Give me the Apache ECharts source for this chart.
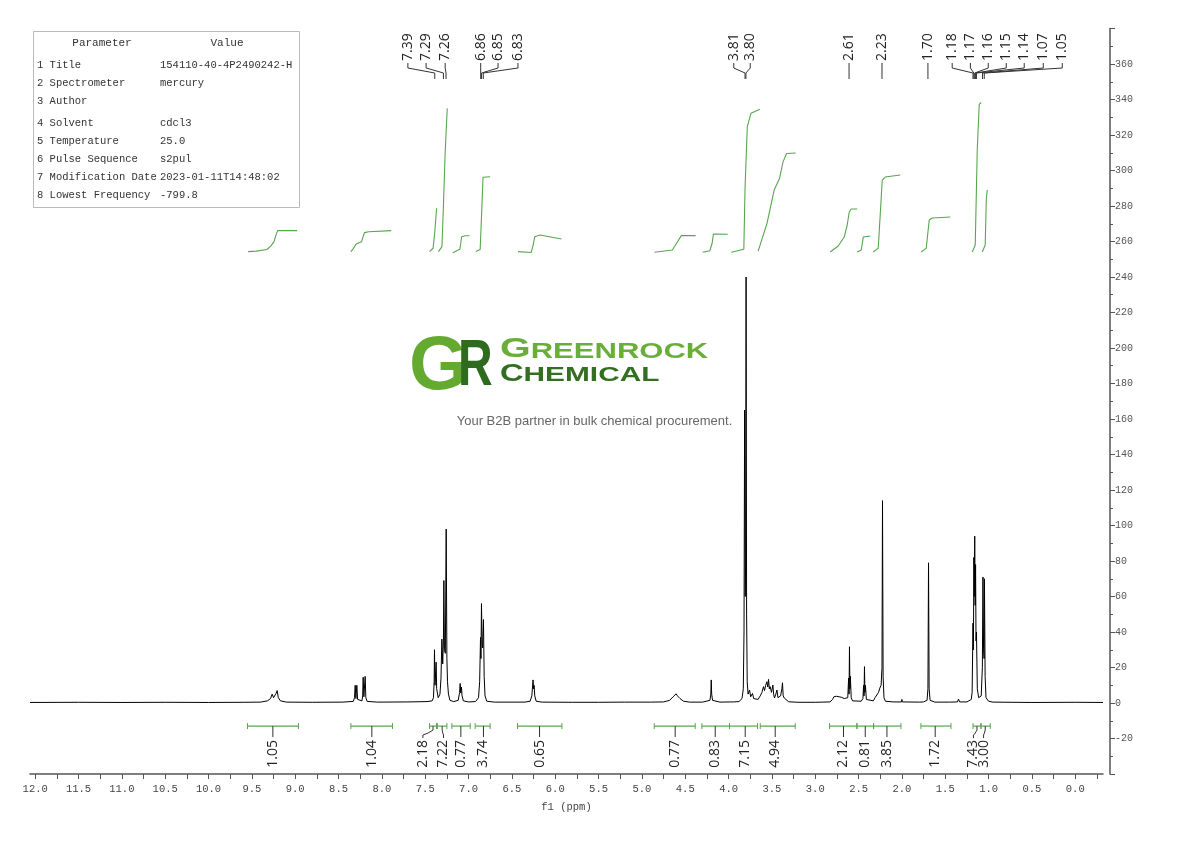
<!DOCTYPE html>
<html><head><meta charset="utf-8">
<script src="https://cdn.jsdelivr.net/npm/echarts@6/dist/echarts.min.js"></script>
<style>html,body{margin:0;padding:0;background:#fff}#c{width:1190px;height:841px}</style>
</head><body><div id="c"></div>
<script>
// ---- spectrum: [ppm, intensity] ----
const spectrum = [
[12.06,0.3],[11.5,0.4],[11.0,0.3],[10.5,0.4],[10.0,0.3],[9.6,0.4],
[9.40,0.5],[9.32,1.2],[9.285,2.5],[9.266,5.0],[9.25,3.0],[9.235,3.5],[9.22,5.5],[9.209,7.0],[9.195,3.0],[9.17,1.2],[9.10,0.5],[8.8,0.4],
[8.45,0.5],[8.33,0.9],[8.316,3],[8.308,10],[8.30,2.5],[8.295,2.5],[8.289,10],[8.28,2],[8.26,0.9],[8.23,1.2],[8.222,4],[8.216,14.5],[8.208,3.5],[8.200,3.5],[8.193,15],[8.185,3],[8.17,0.9],[8.05,0.5],[7.7,0.6],
[7.48,0.8],[7.42,1.2],[7.405,3],[7.397,12],[7.393,30],[7.387,10],[7.38,9],[7.374,23],[7.368,8],[7.35,3],[7.33,5],[7.318,14],[7.308,36],[7.298,22],[7.29,35],[7.285,69],[7.278,30],[7.268,28],[7.258,98],[7.25,25],[7.243,12],[7.239,11],[7.232,5],[7.215,1.5],[7.17,0.8],
[7.12,1.5],[7.103,6],[7.097,11],[7.09,5.6],[7.082,9],[7.075,4],[7.06,1.2],[7.0,0.6],[6.92,0.8],[6.885,3],[6.872,12],[6.862,37],[6.857,25],[6.851,56],[6.844,33],[6.838,31],[6.828,47],[6.82,15],[6.81,4],[6.79,1],[6.70,0.5],
[6.35,0.5],[6.29,1],[6.27,4],[6.262,9],[6.256,13],[6.25,8],[6.244,10],[6.236,4],[6.22,1],[6.15,0.5],[5.8,0.4],[5.5,0.4],[5.2,0.5],[4.9,0.5],
[4.75,0.6],[4.68,1.5],[4.64,3.5],[4.62,4.5],[4.605,5.2],[4.59,4],[4.575,4.5],[4.56,2.5],[4.52,1],[4.45,0.5],[4.30,0.5],
[4.215,1.5],[4.205,5],[4.20,13],[4.195,5],[4.185,1.5],[4.10,0.5],[3.975,0.6],[3.96,1.2],[3.945,0.6],[3.88,0.8],
[3.845,2.5],[3.83,8],[3.822,40],[3.815,165],[3.808,60],[3.803,80],[3.798,240],[3.792,50],[3.785,12],[3.775,5],
[3.758,7.3],[3.745,3.5],[3.735,4],[3.724,5.4],[3.71,2.5],[3.693,1.7],[3.66,2],[3.635,4],[3.615,6],[3.597,9.2],[3.585,7],[3.572,10],[3.558,12],[3.548,9],[3.539,13.3],[3.53,8],[3.52,9.2],[3.505,6],[3.489,10.1],[3.48,5],[3.47,2.8],[3.455,5],[3.442,7.3],[3.43,3],[3.416,2],[3.40,4],[3.385,8],[3.378,11.4],[3.37,4],[3.358,2.8],[3.338,1.7],[3.307,0.7],[3.2,0.4],[3.0,0.4],
[2.83,0.6],[2.80,2],[2.785,3.5],[2.77,4.5],[2.755,3.8],[2.74,4.2],[2.725,3.5],[2.71,4.2],[2.695,3.2],[2.68,3.6],[2.665,2.5],[2.65,1.5],[2.625,3],[2.615,14],[2.61,5],[2.605,31.7],[2.60,8],[2.595,15],[2.585,3],[2.57,1.2],
[2.47,1],[2.45,2.5],[2.442,10],[2.437,4],[2.432,20.5],[2.427,6],[2.421,10],[2.41,2],[2.39,1],
[2.33,1.2],[2.31,3],[2.29,4.5],[2.27,6],[2.255,8.4],[2.24,10],[2.23,20],[2.224,114],[2.217,15],[2.207,3],[2.19,1],[2.10,0.6],[2.005,0.6],[2.0,2],[1.995,0.6],[1.80,0.5],
[1.75,0.6],[1.71,1.5],[1.70,8],[1.693,79],[1.686,8],[1.675,1.5],[1.62,0.5],[1.45,0.5],[1.36,0.6],[1.347,2.2],[1.335,0.6],
[1.25,0.6],[1.20,2],[1.19,6],[1.18,45],[1.175,30],[1.17,82],[1.165,60],[1.16,94],[1.155,55],[1.15,78],[1.145,35],[1.14,40],[1.13,8],[1.115,3],[1.10,2],[1.085,4],[1.072,20],[1.065,71],[1.058,30],[1.052,25],[1.048,70],[1.04,15],[1.03,3],[1.0,1],[0.95,0.5],[0.5,0.3],[0.0,0.4],[-0.32,0.3]
];

// ---- integral curves (same y scale) ----
const integralCurves = [
[[9.544,254.3],[9.45,254.6],[9.326,255.5],[9.28,257.5],[9.244,259.9],[9.22,264],[9.203,266.1],[8.977,266.1]],
[[8.358,254.3],[8.33,256],[8.296,258.6],[8.234,259.9],[8.215,263],[8.201,265.0],[8.151,265.5],[7.892,266.1]],
[[7.451,254.3],[7.41,256.2],[7.39,265],[7.369,278.7]],
[[7.348,254.3],[7.307,257.1],[7.29,280],[7.27,310],[7.246,335.0]],
[[7.183,253.7],[7.101,255.6],[7.09,259],[7.08,262.7],[7.039,263.2],[6.989,263.2]],
[[6.916,254.3],[6.866,255.5],[6.85,275],[6.833,296.2],[6.751,296.5]],
[[6.429,254.3],[6.277,253.8],[6.255,258],[6.236,262.7],[6.174,263.7],[5.927,261.4]],
[[4.855,253.9],[4.649,255.2],[4.60,259],[4.545,263.3],[4.38,263.3]],
[[4.298,253.9],[4.216,254.8],[4.19,259],[4.175,264.2],[4.01,264.1]],
[[3.968,253.9],[3.824,255.6],[3.81,290],[3.784,324.7],[3.742,332.2],[3.639,334.5]],
[[3.659,254.6],[3.61,262],[3.556,270.3],[3.474,289.0],[3.412,295.5],[3.371,305.0],[3.330,309.6],[3.226,309.9]],
[[2.827,254.1],[2.735,257.5],[2.666,262.5],[2.631,269.3],[2.608,276.6],[2.585,278.3],[2.516,278.3]],
[[2.516,254.1],[2.469,255.2],[2.446,262.5],[2.365,263.1]],
[[2.331,254.1],[2.273,256.3],[2.227,294.6],[2.193,296.3],[2.02,297.5]],
[[1.777,254.1],[1.719,256.3],[1.685,272.1],[1.650,273.2],[1.442,273.8]],
[[1.189,254.1],[1.154,258.0],[1.131,311.5],[1.108,337.2],[1.085,338.3]],
[[1.073,254.1],[1.039,258.0],[1.027,283.4],[1.016,289.0]]
];

// ---- integral bars below baseline ----
const integralRanges = [[9.551,8.963],[8.358,7.878],[7.45,7.37],[7.36,7.25],[7.193,6.981],[6.924,6.751],[6.435,5.923],[4.858,4.385],[4.308,3.989],[3.989,3.666],[3.635,3.231],[2.835,2.519],[2.519,2.327],[2.327,2.011],[1.781,1.434],[1.180,1.088],[1.088,0.981]];
const integralCenters = [9.258,8.116,7.41,7.305,7.089,6.828,6.181,4.616,4.154,3.808,3.462,2.674,2.423,2.173,1.616,1.134,1.039];
const integralValues = ['1.05','1.04','2.18','7.22','0.77','3.74','0.65','0.77','0.83','7.15','4.94','2.12','0.81','3.85','1.72','7.43','3.00'];
const integralLabelAt = [9.258,8.116,7.527,7.289,7.089,6.828,6.181,4.616,4.154,3.808,3.462,2.674,2.423,2.173,1.616,1.174,1.058];

// ---- peak labels ----
const peakLabels = ['7.39','7.29','7.26','6.86','6.85','6.83','3.81','3.80','2.61','2.23','1.70','1.18','1.17','1.16','1.15','1.14','1.07','1.05'];
const peakPositions = [7.39,7.29,7.26,6.86,6.85,6.83,3.81,3.80,2.61,2.23,1.70,1.18,1.17,1.16,1.15,1.14,1.07,1.05];
const peakLabelAt = [7.70,7.49,7.27,6.86,6.66,6.43,3.94,3.75,2.61,2.23,1.70,1.42,1.21,1.004,0.796,0.589,0.369,0.15];

// ---- axes ticks ----
const xTickLabels = [0,0.5,1,1.5,2,2.5,3,3.5,4,4.5,5,5.5,6,6.5,7,7.5,8,8.5,9,9.5,10,10.5,11,11.5,12];
const xMinorTicks = [-0.25,0.25,0.75,1.25,1.75,2.25,2.75,3.25,3.75,4.25,4.75,5.25,5.75,6.25,6.75,7.25,7.75,8.25,8.75,9.25,9.75,10.25,10.75,11.25,11.75];

// ---- parameter table ----
const paramNames = ['1 Title','2 Spectrometer','3 Author','4 Solvent','5 Temperature','6 Pulse Sequence','7 Modification Date','8 Lowest Frequency'];
const paramValues = ['154110-40-4P2490242-H','mercury','','cdcl3','25.0','s2pul','2023-01-11T14:48:02','-799.8'];

const MONO = 'Liberation Mono';
const SANS = 'Open Sans';
const GREEN = '#57a64f';
const INT_BAR_Y = -13;

function renderPeakLabel(params, api) {
  const i = params.dataIndex;
  const px = api.coord([api.value(0), 0])[0];
  const lx = api.coord([api.value(2), 0])[0];
  const children = [{
    type: 'text', x: lx, y: 61, rotation: Math.PI / 2,
    style: { text: peakLabels[i], fontSize: 14, fontFamily: SANS, fill: '#222', align: 'left', verticalAlign: 'middle' }
  }];
  const pts = Math.abs(px - lx) < 0.8 ? [[lx, 63], [lx, 79]] : [[lx, 63], [lx, 68], [px, 73], [px, 79]];
  children.push({ type: 'polyline', shape: { points: pts }, style: { stroke: '#333', lineWidth: 1, fill: null } });
  return { type: 'group', children };
}

function renderIntegral(params, api) {
  const i = params.dataIndex;
  const y = api.coord([0, INT_BAR_Y])[1];
  const x1 = api.coord([api.value(0), 0])[0];
  const x2 = api.coord([api.value(1), 0])[0];
  const xc = api.coord([api.value(2), 0])[0];
  const xl = api.coord([api.value(3), 0])[0];
  const ch = [
    { type: 'line', shape: { x1: x1, y1: y, x2: x2, y2: y }, style: { stroke: GREEN, lineWidth: 1.2 } },
    { type: 'line', shape: { x1: x1, y1: y - 3, x2: x1, y2: y + 3 }, style: { stroke: GREEN, lineWidth: 1 } },
    { type: 'line', shape: { x1: x2, y1: y - 3, x2: x2, y2: y + 3 }, style: { stroke: GREEN, lineWidth: 1 } }
  ];
  if (Math.abs(xl - xc) < 0.8) {
    ch.push({ type: 'line', shape: { x1: xc, y1: y, x2: xc, y2: y + 11 }, style: { stroke: '#333', lineWidth: 1 } });
  } else {
    ch.push({ type: 'line', shape: { x1: xc, y1: y, x2: xc, y2: y + 4 }, style: { stroke: '#333', lineWidth: 1 } });
    ch.push({ type: 'polyline', shape: { points: [[xc, y + 4], [xc + (xl - xc) * 0.5, y + 7], [xl, y + 9], [xl, y + 12]] }, style: { stroke: '#333', lineWidth: 1, fill: null } });
  }
  ch.push({ type: 'text', x: xl, y: y + 14, rotation: Math.PI / 2,
    style: { text: integralValues[i], fontSize: 14, fontFamily: SANS, fill: '#222', align: 'right', verticalAlign: 'middle' } });
  return { type: 'group', children: ch };
}

const rowYs = [65, 83, 101, 123, 141, 159, 177, 195];
const graphics = [
  { type: 'rect', shape: { x: 33.5, y: 31.5, width: 266, height: 176 }, style: { fill: '#fff', stroke: '#bbb', lineWidth: 1 }, z: 10 },
  { type: 'text', x: 102, y: 43, style: { text: 'Parameter', font: '11px ' + MONO, fill: '#333', align: 'center', verticalAlign: 'middle' }, z: 11 },
  { type: 'text', x: 227, y: 43, style: { text: 'Value', font: '11px ' + MONO, fill: '#333', align: 'center', verticalAlign: 'middle' }, z: 11 }
];
paramNames.forEach((n, i) => {
  graphics.push({ type: 'text', x: 37, y: rowYs[i], style: { text: n, font: '10.5px ' + MONO, fill: '#333', verticalAlign: 'middle' }, z: 11 });
  graphics.push({ type: 'text', x: 160, y: rowYs[i], style: { text: paramValues[i], font: '10.5px ' + MONO, fill: '#333', verticalAlign: 'middle' }, z: 11 });
});
// logo
graphics.push(
  { type: 'text', x: 409, y: 368, style: { text: 'G', font: 'bold 76px Liberation Sans', fill: '#64a930', verticalAlign: 'middle' }, z: 11 },
  { type: 'text', x: 458, y: 367, scaleX: 0.75, style: { text: 'R', font: 'bold 64px Liberation Sans', fill: '#2f6b1f', verticalAlign: 'middle' }, z: 12 },
  { type: 'text', x: 500, y: 363, scaleX: 1.41, style: { text: '{a|G}{b|REENROCK}', verticalAlign: 'bottom', rich: { a: { font: 'bold 28px Liberation Sans', fill: '#6aae3a', verticalAlign: 'bottom' }, b: { font: 'bold 22px Liberation Sans', fill: '#6aae3a', verticalAlign: 'bottom' } } }, z: 11 },
  { type: 'text', x: 500, y: 386, scaleX: 1.42, style: { text: '{a|C}{b|HEMICAL}', verticalAlign: 'bottom', rich: { a: { font: 'bold 23px Liberation Sans', fill: '#336e22', verticalAlign: 'bottom' }, b: { font: 'bold 21px Liberation Sans', fill: '#336e22', verticalAlign: 'bottom' } } }, z: 11 },
  { type: 'text', x: 594.5, y: 421, style: { text: 'Your B2B partner in bulk chemical procurement.', font: '13px Liberation Sans', fill: '#666', align: 'center', verticalAlign: 'middle' }, z: 11 }
);

const series = [
  { type: 'line', data: spectrum, showSymbol: false, symbol: 'none', silent: true, z: 3,
    lineStyle: { color: '#000', width: 1 } }
];
integralCurves.forEach(c => series.push({ type: 'line', data: c, showSymbol: false, symbol: 'none', silent: true, z: 2,
  lineStyle: { color: GREEN, width: 1.1 } }));
series.push({ type: 'custom', renderItem: renderPeakLabel, silent: true, z: 4,
  encode: { x: [0, 2], y: 1 },
  data: peakPositions.map((p, i) => [p, 0, peakLabelAt[i]]) });
series.push({ type: 'custom', renderItem: renderIntegral, silent: true, z: 4,
  encode: { x: [0, 1, 2, 3], y: 4 },
  data: integralRanges.map((r, i) => [r[0], r[1], integralCenters[i], integralLabelAt[i], INT_BAR_Y]) });

const chart = echarts.init(document.getElementById('c'), null, { renderer: 'canvas' });
chart.setOption({
  animation: false,
  backgroundColor: '#fff',
  grid: { left: 30, right: 87, top: 28.5, bottom: 67, containLabel: false },
  xAxis: {
    type: 'value', min: -0.32, max: 12.06, inverse: true,
    name: 'f1 (ppm)', nameLocation: 'middle', nameGap: 28,
    nameTextStyle: { fontFamily: MONO, fontSize: 10.5, color: '#444' },
    axisLine: { show: true, onZero: false, lineStyle: { color: '#555', width: 1.5 } },
    axisTick: { show: true, length: 5, customValues: xTickLabels.concat(xMinorTicks), lineStyle: { color: '#555' } },
    axisLabel: { customValues: xTickLabels, formatter: v => Number(v).toFixed(1), margin: 10, fontFamily: MONO, fontSize: 10.5, color: '#444' },
    splitLine: { show: false }
  },
  yAxis: {
    type: 'value', position: 'right', offset: 7, min: -40, max: 380, interval: 20,
    axisLine: { show: true, onZero: false, lineStyle: { color: '#555', width: 1.5 } },
    axisTick: { show: true, length: 5, lineStyle: { color: '#555' } },
    minorTick: { show: true, splitNumber: 2, length: 3, lineStyle: { color: '#555' } },
    axisLabel: { showMinLabel: false, showMaxLabel: false, margin: 5, fontFamily: MONO, fontSize: 10, color: '#555',
      formatter: v => (v < -20 || v > 360) ? '' : String(v) },
    splitLine: { show: false }, minorSplitLine: { show: false }
  },
  graphic: { elements: graphics },
  series: series
});
</script></body></html>
